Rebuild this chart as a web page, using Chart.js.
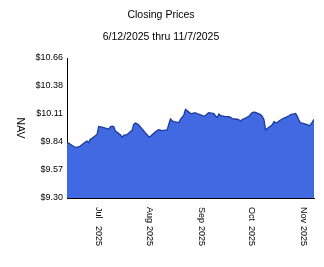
<!DOCTYPE html>
<html><head><meta charset="utf-8">
<script src="https://cdn.jsdelivr.net/npm/chart.js@4/dist/chart.umd.min.js"></script>
<style>html,body{margin:0;padding:0;background:#fff;}canvas{display:block;}</style>
</head><body>
<canvas id="c" width="324" height="267"></canvas>
<script>
const titleText = 'Closing Prices';
const subtitleText = '6/12/2025 thru 11/7/2025';
const yAxisTitle = 'NAV';

const dates = [
'2025-06-12','2025-06-13','2025-06-16','2025-06-17','2025-06-18','2025-06-20','2025-06-23','2025-06-24','2025-06-25','2025-06-26','2025-06-27','2025-06-30',
'2025-07-01','2025-07-02','2025-07-03','2025-07-07','2025-07-08','2025-07-09','2025-07-10','2025-07-11','2025-07-14','2025-07-15','2025-07-16','2025-07-17','2025-07-18','2025-07-21','2025-07-22','2025-07-23','2025-07-24','2025-07-25','2025-07-28','2025-07-29','2025-07-30','2025-07-31',
'2025-08-01','2025-08-04','2025-08-05','2025-08-06','2025-08-07','2025-08-08','2025-08-11','2025-08-12','2025-08-13','2025-08-14','2025-08-15','2025-08-18','2025-08-19','2025-08-20','2025-08-21','2025-08-22','2025-08-25','2025-08-26','2025-08-27','2025-08-28','2025-08-29',
'2025-09-02','2025-09-03','2025-09-04','2025-09-05','2025-09-08','2025-09-09','2025-09-10','2025-09-11','2025-09-12','2025-09-15','2025-09-16','2025-09-17','2025-09-18','2025-09-19','2025-09-22','2025-09-23','2025-09-24','2025-09-25','2025-09-26','2025-09-29','2025-09-30',
'2025-10-01','2025-10-02','2025-10-03','2025-10-06','2025-10-07','2025-10-08','2025-10-09','2025-10-10','2025-10-13','2025-10-14','2025-10-15','2025-10-16','2025-10-17','2025-10-20','2025-10-21','2025-10-22','2025-10-23','2025-10-24','2025-10-27','2025-10-28','2025-10-29','2025-10-30','2025-10-31',
'2025-11-03','2025-11-04','2025-11-05','2025-11-06','2025-11-07'
];

const navValues = [
9.837,9.834,9.800,9.795,9.792,9.805,9.844,9.854,9.839,9.870,9.880,9.917,
9.995,9.992,9.988,9.970,9.991,9.997,9.993,9.951,9.914,9.890,9.909,9.912,9.916,9.959,10.015,10.028,10.021,10.010,9.951,9.933,9.916,9.893,
9.899,9.944,9.956,9.964,9.960,9.954,9.962,10.018,10.068,10.050,10.042,10.033,10.065,10.084,10.106,10.160,10.122,10.119,10.126,10.126,10.119,
10.095,10.099,10.119,10.129,10.120,10.097,10.084,10.115,10.101,10.091,10.090,10.090,10.084,10.072,10.065,10.060,10.048,10.062,10.068,10.094,10.115,
10.130,10.134,10.131,10.110,10.094,10.060,9.961,9.975,10.011,10.041,10.032,10.032,10.048,10.077,10.083,10.090,10.099,10.109,10.121,10.093,10.054,10.030,10.027,
10.014,10.001,10.015,10.037,10.064
];

const yTickValues = [9.30, 9.572, 9.844, 10.116, 10.388, 10.66];
const yTickLabels = ['$9.30', '$9.57', '$9.84', '$10.11', '$10.38', '$10.66'];

const xTickDates = ['2025-07-01', '2025-08-01', '2025-09-01', '2025-10-01', '2025-11-01'];
const xTickLabels = ['Jul 2025', 'Aug 2025', 'Sep 2025', 'Oct 2025', 'Nov 2025'];

const FONT = "'Liberation Sans', Arial, Helvetica, sans-serif";
const DAY = 86400000;
function toMs(s) { const p = s.split('-').map(Number); return Date.UTC(p[0], p[1] - 1, p[2]); }
const t0 = toMs(dates[0]);
function dayOffset(s) { return Math.round((toMs(s) - t0) / DAY); }

const points = dates.map((d, i) => ({ x: dayOffset(d), y: navValues[i] }));
const xTickOffsets = xTickDates.map(dayOffset);

const labelPlugin = {
  id: 'labels',
  afterDraw(chart) {
    const ctx = chart.ctx;
    const xs = chart.scales.x, ys = chart.scales.y;
    ctx.save();
    ctx.fillStyle = '#000';
    ctx.textAlign = 'center';
    ctx.textBaseline = 'middle';
    ctx.font = '10.5px ' + FONT;
    ctx.fillText(titleText, 161, 15);
    ctx.fillText(subtitleText, 161, 37);

    // y-axis title, reading top to bottom
    ctx.save();
    ctx.translate(20, (ys.top + ys.bottom) / 2);
    ctx.rotate(Math.PI / 2);
    ctx.font = '10.5px ' + FONT;
    ctx.fillText(yAxisTitle, 0, 0);
    ctx.restore();

    // x tick labels, rotated clockwise
    ctx.font = '9px ' + FONT;
    ctx.textAlign = 'left';
    xTickOffsets.forEach((v, i) => {
      const px = xs.getPixelForValue(v) - 0.5;
      const parts = xTickLabels[i].split(' ');
      ctx.save();
      ctx.translate(px, xs.top + 9);
      ctx.rotate(Math.PI / 2);
      ctx.fillText(parts[0], 0, 0);
      ctx.fillText(parts[1], 19, 0);
      ctx.restore();
    });
    ctx.restore();
  }
};

new Chart(document.getElementById('c'), {
  type: 'line',
  data: {
    datasets: [{
      data: points,
      borderColor: '#1d3b9e',
      borderWidth: 1.3,
      backgroundColor: '#4169e1',
      fill: 'start',
      pointRadius: 0,
      tension: 0
    }]
  },
  options: {
    responsive: false,
    animation: false,
    devicePixelRatio: 1,
    layout: { padding: { top: 58, right: 10, left: 0, bottom: 0 } },
    plugins: { legend: { display: false }, title: { display: false }, tooltip: { enabled: false } },
    scales: {
      x: {
        type: 'linear',
        min: 0,
        max: points[points.length - 1].x,
        grid: { display: false, drawTicks: false },
        border: { display: true, color: '#000', width: 1 },
        ticks: { display: false },
        afterBuildTicks: s => { s.ticks = xTickOffsets.map(v => ({ value: v })); },
        afterFit: s => { s.height = 69; }
      },
      y: {
        min: yTickValues[0],
        max: yTickValues[yTickValues.length - 1],
        grid: { display: false, drawTicks: false },
        border: { display: true, color: '#000', width: 1 },
        ticks: {
          color: '#000',
          padding: 4,
          font: { family: FONT, size: 9 },
          callback: (v, i) => yTickLabels[i]
        },
        afterBuildTicks: s => { s.ticks = yTickValues.map(v => ({ value: v })); },
        afterFit: s => { s.width = 67; }
      }
    }
  },
  plugins: [labelPlugin]
});
</script>
</body></html>
